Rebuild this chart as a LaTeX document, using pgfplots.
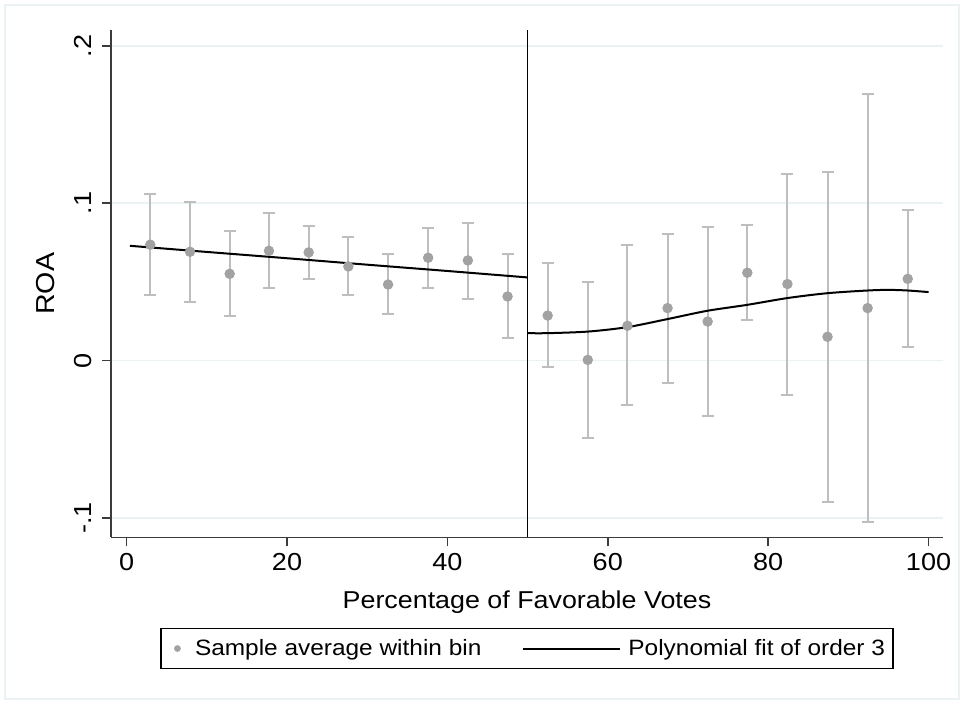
\documentclass[border=0pt]{standalone}
\usepackage{pgfplots}
\pgfplotsset{compat=1.18}
\usepackage{fontspec}
\setmainfont{Liberation Sans}[FakeStretch=1.1]
\definecolor{markgray}{RGB}{162,162,162}
\definecolor{bargray}{RGB}{190,190,190}
\definecolor{gridc}{RGB}{234,242,243}
\definecolor{axisc}{RGB}{60,60,60}

% binned means: x, mean, upper and lower CI half-widths
\pgfplotstableread{
x y ep em
2.95 0.0736 0.0319 0.0318
7.9 0.0691 0.0318 0.0320
12.85 0.0551 0.0272 0.0269
17.75 0.0697 0.0238 0.0235
22.7 0.0687 0.0169 0.0168
27.65 0.0598 0.0184 0.0182
32.6 0.0483 0.0191 0.0188
37.6 0.0653 0.0191 0.0191
42.55 0.0636 0.0241 0.0242
47.5 0.0407 0.0267 0.0265
52.5 0.0286 0.0331 0.0328
57.5 0.0004 0.0498 0.0497
62.45 0.0221 0.0510 0.0505
67.45 0.0333 0.0472 0.0473
72.45 0.0248 0.0600 0.0600
77.4 0.0558 0.0300 0.0299
82.4 0.0486 0.0699 0.0702
87.4 0.0151 0.1049 0.1047
92.4 0.0333 0.1361 0.1360
97.4 0.0519 0.0435 0.0432
}\bins

\begin{document}
\begin{tikzpicture}
\useasboundingbox (-55.5pt,-83.25pt) rectangle (426.5pt,268.75pt);
\draw[gridc,line width=0.8pt] (-53pt,-80.75pt) rectangle (424pt,266.25pt);
\begin{axis}[
  scale only axis, width=416pt, height=253.75pt,
  xmin=-1.95, xmax=101.8, ymin=-0.1124, ymax=0.21,
  axis x line*=bottom, axis y line*=left,
  axis line style={axisc,line width=0.8pt},
  tick align=outside, major tick length=4.5pt,
  tick style={axisc,line width=0.8pt},
  xtick={0,20,40,60,80,100},
  ytick={-0.1,0,0.1,0.2}, yticklabels={-.1,0,.1,.2},
  /pgf/number format/assume math mode=true,
  tick label style={font=\fontsize{12.3}{15}\selectfont},
  yticklabel style={rotate=90,anchor=south}, yticklabel shift=1.5pt,
  ymajorgrids, grid style={gridc,line width=0.8pt},
  xlabel={Percentage of Favorable Votes}, ylabel={ROA},
  xlabel style={font=\fontsize{12.2}{15}\selectfont,
    at={(axis description cs:0.5,-0.1409)},anchor=base},
  ylabel style={font=\fontsize{13}{15}\selectfont,
    at={(axis description cs:-0.0781,0.5)},anchor=center},
  legend columns=2,
  legend style={at={(0.5,-0.1783)},anchor=north,draw=black,line width=0.6pt,
    font=\fontsize{11.1}{14}\selectfont,inner xsep=2pt,inner ysep=3.2pt,
    /tikz/every even column/.append style={column sep=18.5pt}},
]
\addplot[black,line width=0.8pt,forget plot] coordinates {(50,-0.1124) (50,0.21)};
\addplot[only marks,mark=*,mark size=2.4pt,color=markgray,
  error bars/.cd, y dir=both, y explicit,
  error bar style={bargray,line width=1pt},
  error mark options={bargray,rotate=90,mark size=3pt,line width=1pt},
  /pgfplots/legend image code/.code={\path[draw=none,fill=none] (0pt,-0.1pt) rectangle (13pt,0.1pt);
    \fill[markgray,draw=none] (6.2pt,0pt) circle (1.7pt);}]
  table[x=x,y=y,y error plus=ep,y error minus=em] {\bins};
\addlegendentry{Sample average within bin}
\addplot[black,line width=1pt,smooth,
  legend image code/.code={\draw[black,line width=1pt] (0pt,0pt) -- (48.5pt,0pt);
    \path[draw=none] (50.5pt,0pt);}]
  coordinates {(0.4,0.0729) (10,0.0690) (20,0.0650) (30,0.0609) (40,0.0569) (50,0.0528)};
\addlegendentry{Polynomial fit of order 3}
\addplot[black,line width=1pt,smooth,forget plot] coordinates {
(50,0.0174) (52.5,0.0174) (57.5,0.0184) (62.4,0.0212) (67.4,0.0263) (72.4,0.0316)
(77.4,0.0354) (82.4,0.0397) (87.4,0.0428) (92.4,0.0445) (95,0.0449) (97.4,0.0445) (100,0.0435)};
\end{axis}
\end{tikzpicture}
\end{document}
